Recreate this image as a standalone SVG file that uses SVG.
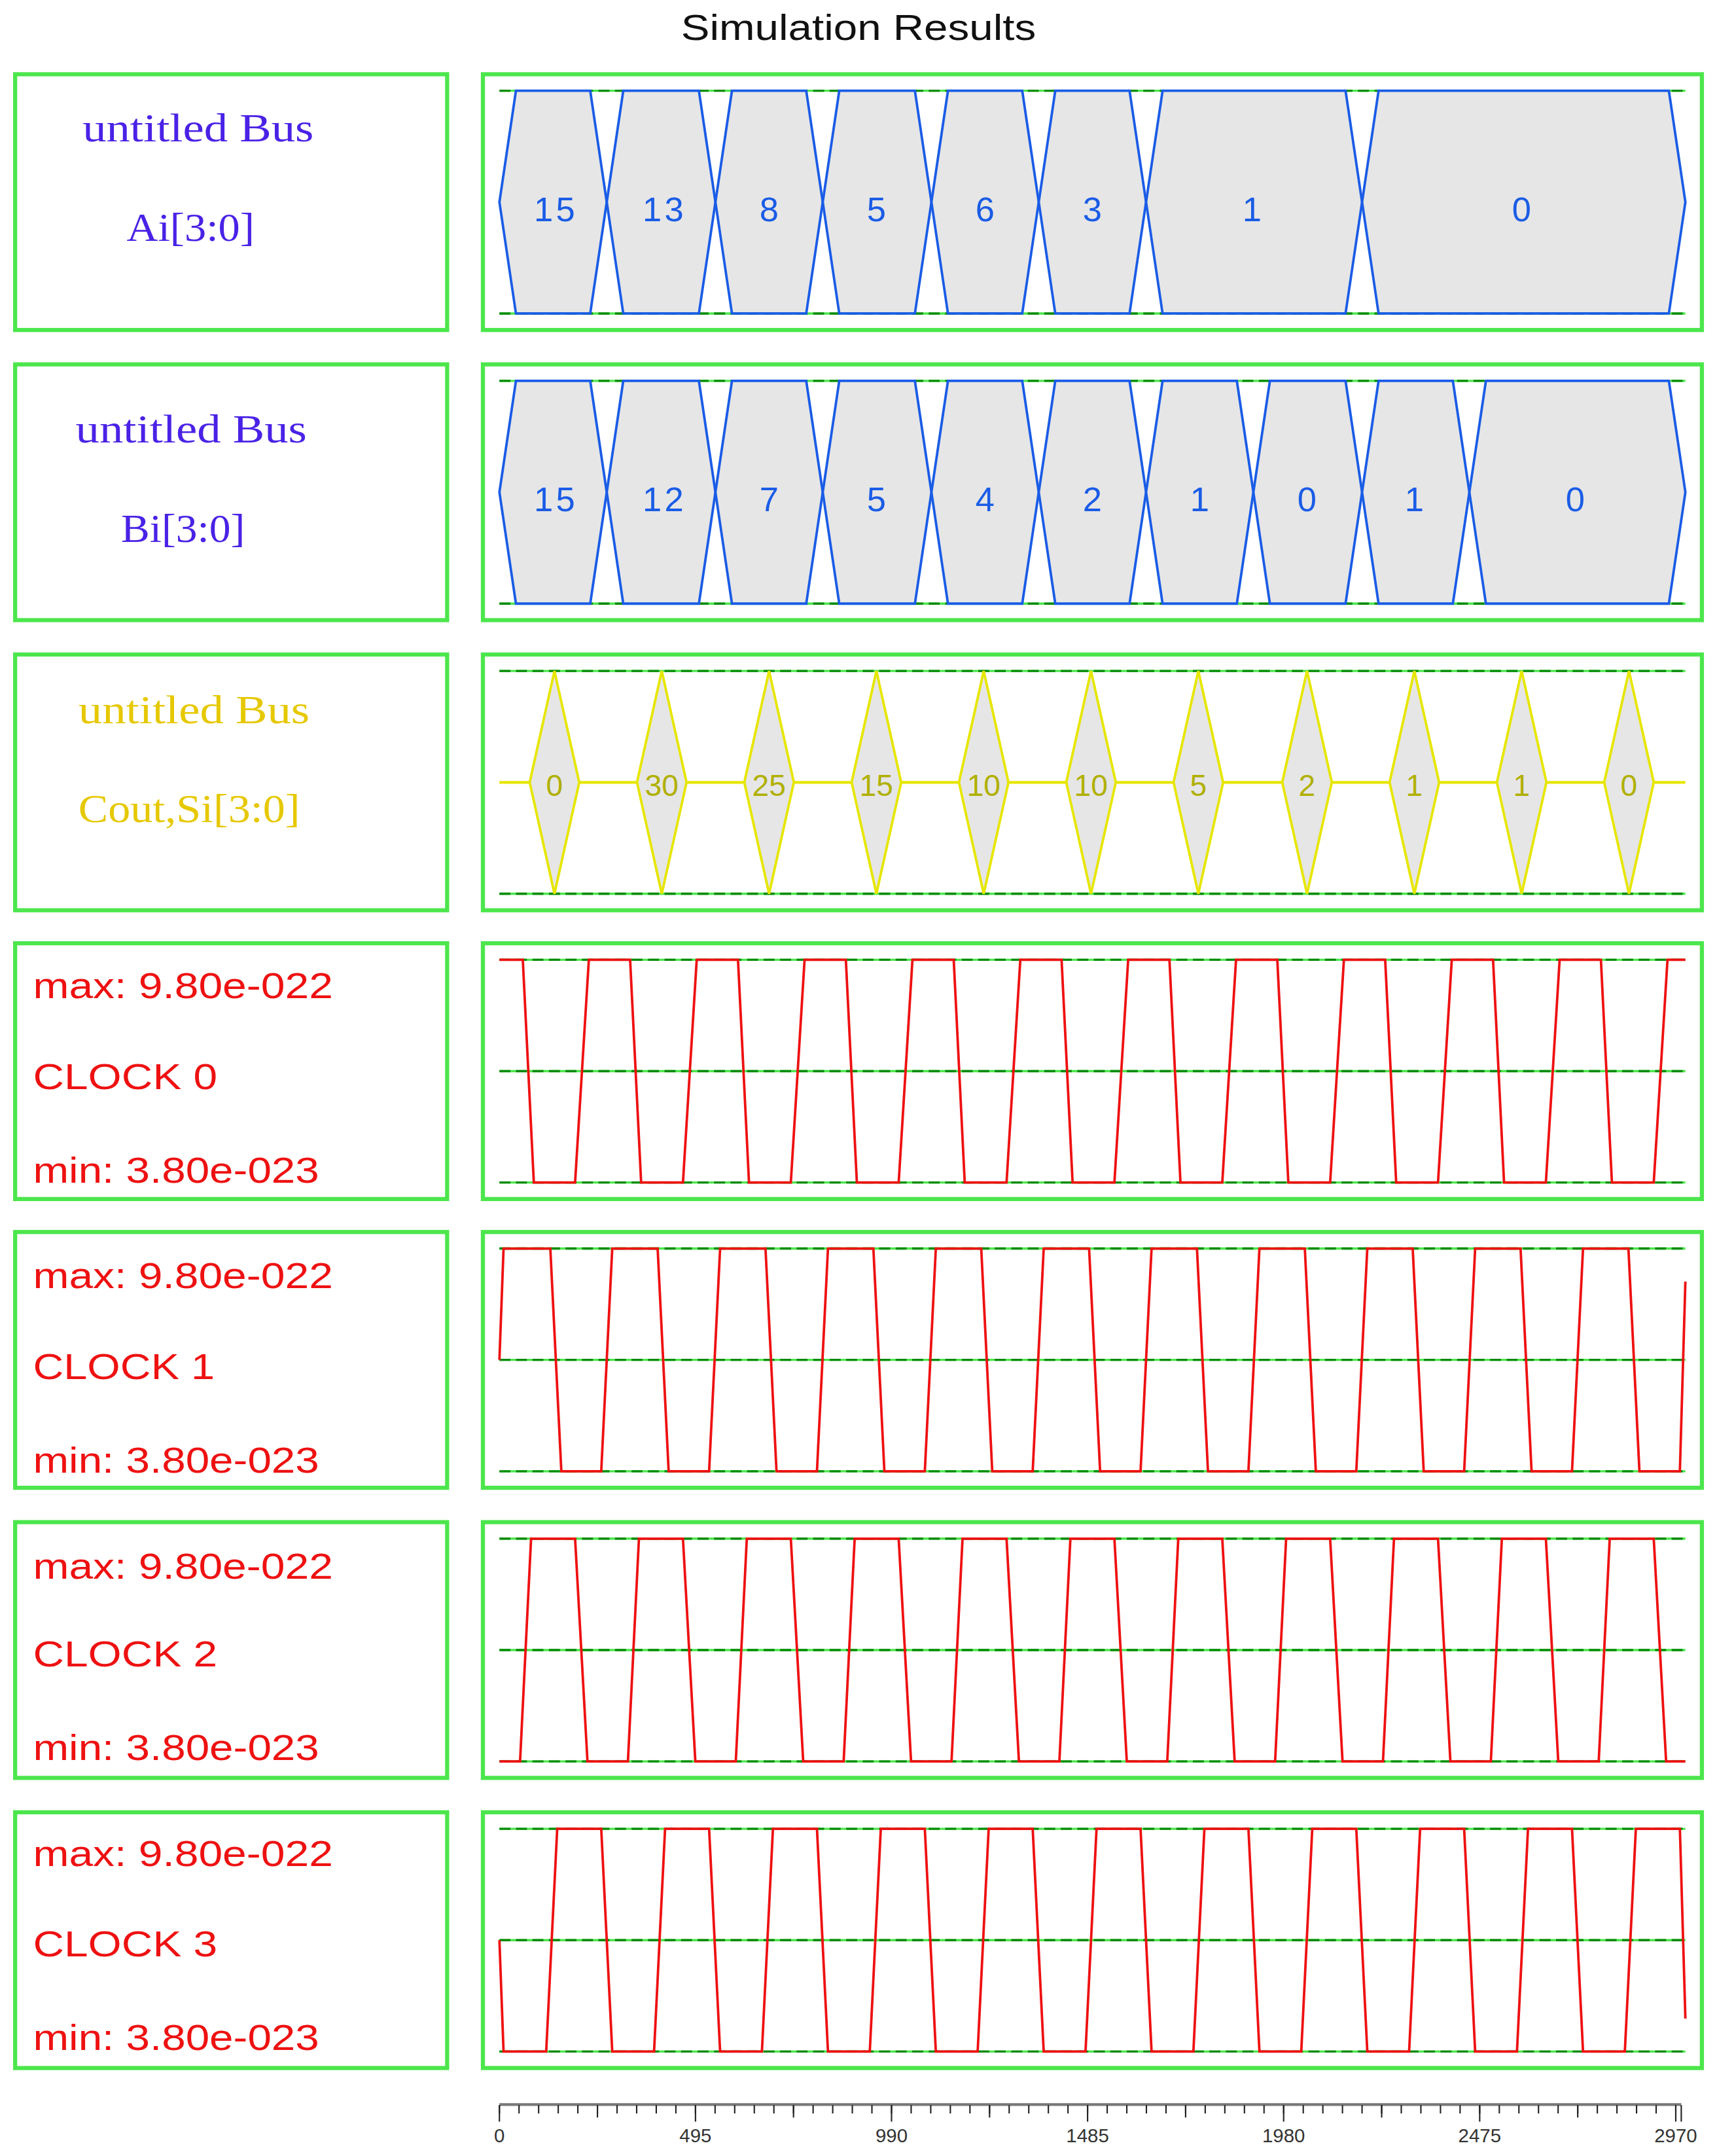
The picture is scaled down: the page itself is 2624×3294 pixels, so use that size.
<svg xmlns="http://www.w3.org/2000/svg" width="2624" height="3294" viewBox="0 0 2624 3294">
<style>
.box{fill:#fff;stroke:#4ce64c;stroke-width:3}
.dl{stroke:#4ce64c;stroke-width:1.6}
.dd{stroke:#0a8a0a;stroke-width:1.6;stroke-dasharray:8 4}
.hex{fill:#e6e6e6;stroke:#1a5ce6;stroke-width:1.8}
.hv{font-family:"Liberation Sans",Arial,sans-serif;font-size:25px;fill:#1a5ce6;text-anchor:middle;letter-spacing:2px}
.dia{fill:#e6e6e6;stroke:#e6e600;stroke-width:1.8}
.dv{font-family:"Liberation Sans",Arial,sans-serif;font-size:22px;fill:#b0b000;text-anchor:middle}
.bl{font-family:"Liberation Serif","Times New Roman",serif;font-size:29px}
.cl{font-family:"Liberation Sans",Arial,sans-serif;font-size:26px;fill:#ee1111}
.clk{fill:none;stroke:#ee1111;stroke-width:1.8}
.rl{font-family:"Liberation Sans",Arial,sans-serif;font-size:14px;fill:#333;text-anchor:middle}
</style>
<rect width="2624" height="3294" fill="#fff"/>
<g transform="scale(2.1026,2.1008)">
<text x="495" y="29" font-family="Liberation Sans,Arial,sans-serif" font-size="26" fill="#111" textLength="258" lengthAdjust="spacingAndGlyphs">Simulation Results</text>

<g id="row1-label"><rect class="box" x="11" y="54" width="314" height="186"/>
<text class="bl" x="60" y="103" fill="#4a22e6" textLength="168" lengthAdjust="spacingAndGlyphs">untitled Bus</text><text class="bl" x="92" y="175" fill="#4a22e6" textLength="93" lengthAdjust="spacingAndGlyphs">Ai[3:0]</text></g>
<g id="row2-label"><rect class="box" x="11" y="265" width="314" height="186"/>
<text class="bl" x="55" y="322" fill="#4a22e6" textLength="168" lengthAdjust="spacingAndGlyphs">untitled Bus</text><text class="bl" x="88" y="394" fill="#4a22e6" textLength="90" lengthAdjust="spacingAndGlyphs">Bi[3:0]</text></g>
<g id="row3-label"><rect class="box" x="11" y="476" width="314" height="186"/>
<text class="bl" x="57" y="526" fill="#e6c800" textLength="168" lengthAdjust="spacingAndGlyphs">untitled Bus</text><text class="bl" x="57" y="598" fill="#e6c800" textLength="161" lengthAdjust="spacingAndGlyphs">Cout,Si[3:0]</text></g>
<g id="row4-label"><rect class="box" x="11" y="686" width="314" height="186"/>
<text class="cl" x="24" y="726" textLength="218" lengthAdjust="spacingAndGlyphs">max: 9.80e-022</text><text class="cl" x="24" y="792" textLength="134" lengthAdjust="spacingAndGlyphs">CLOCK 0</text><text class="cl" x="24" y="860" textLength="208" lengthAdjust="spacingAndGlyphs">min: 3.80e-023</text></g>
<g id="row5-label"><rect class="box" x="11" y="896" width="314" height="186"/>
<text class="cl" x="24" y="937" textLength="218" lengthAdjust="spacingAndGlyphs">max: 9.80e-022</text><text class="cl" x="24" y="1003" textLength="132" lengthAdjust="spacingAndGlyphs">CLOCK 1</text><text class="cl" x="24" y="1071" textLength="208" lengthAdjust="spacingAndGlyphs">min: 3.80e-023</text></g>
<g id="row6-label"><rect class="box" x="11" y="1107" width="314" height="186"/>
<text class="cl" x="24" y="1148" textLength="218" lengthAdjust="spacingAndGlyphs">max: 9.80e-022</text><text class="cl" x="24" y="1212" textLength="134" lengthAdjust="spacingAndGlyphs">CLOCK 2</text><text class="cl" x="24" y="1280" textLength="208" lengthAdjust="spacingAndGlyphs">min: 3.80e-023</text></g>
<g id="row7-label"><rect class="box" x="11" y="1318" width="314" height="186"/>
<text class="cl" x="24" y="1357" textLength="218" lengthAdjust="spacingAndGlyphs">max: 9.80e-022</text><text class="cl" x="24" y="1423" textLength="134" lengthAdjust="spacingAndGlyphs">CLOCK 3</text><text class="cl" x="24" y="1491" textLength="208" lengthAdjust="spacingAndGlyphs">min: 3.80e-023</text></g>

<g id="row1-wave"><rect class="box" x="351" y="54" width="886" height="186"/>
<path class="dl" d="M363 66H1225M363 228H1225"/><path class="dd" d="M363 66H1225M363 228H1225"/>
<polygon class="hex" points="363,147 375,66 429,66 441,147 429,228 375,228"/>
<polygon class="hex" points="441,147 453,66 508,66 520,147 508,228 453,228"/>
<polygon class="hex" points="520,147 532,66 586,66 598,147 586,228 532,228"/>
<polygon class="hex" points="598,147 610,66 665,66 677,147 665,228 610,228"/>
<polygon class="hex" points="677,147 689,66 743,66 755,147 743,228 689,228"/>
<polygon class="hex" points="755,147 767,66 821,66 833,147 821,228 767,228"/>
<polygon class="hex" points="833,147 845,66 978,66 990,147 978,228 845,228"/>
<polygon class="hex" points="990,147 1002,66 1213,66 1225,147 1213,228 1002,228"/>
<text class="hv" x="404" y="161">15</text><text class="hv" x="483" y="161">13</text><text class="hv" x="560" y="161">8</text><text class="hv" x="638" y="161">5</text><text class="hv" x="717" y="161">6</text><text class="hv" x="795" y="161">3</text><text class="hv" x="911" y="161">1</text><text class="hv" x="1107" y="161">0</text></g>

<g id="row2-wave"><rect class="box" x="351" y="265" width="886" height="186"/>
<path class="dl" d="M363 277H1225M363 439H1225"/><path class="dd" d="M363 277H1225M363 439H1225"/>
<polygon class="hex" points="363,358 375,277 429,277 441,358 429,439 375,439"/>
<polygon class="hex" points="441,358 453,277 508,277 520,358 508,439 453,439"/>
<polygon class="hex" points="520,358 532,277 586,277 598,358 586,439 532,439"/>
<polygon class="hex" points="598,358 610,277 665,277 677,358 665,439 610,439"/>
<polygon class="hex" points="677,358 689,277 743,277 755,358 743,439 689,439"/>
<polygon class="hex" points="755,358 767,277 821,277 833,358 821,439 767,439"/>
<polygon class="hex" points="833,358 845,277 899,277 911,358 899,439 845,439"/>
<polygon class="hex" points="911,358 923,277 978,277 990,358 978,439 923,439"/>
<polygon class="hex" points="990,358 1002,277 1056,277 1068,358 1056,439 1002,439"/>
<polygon class="hex" points="1068,358 1080,277 1213,277 1225,358 1213,439 1080,439"/>
<text class="hv" x="404" y="372">15</text><text class="hv" x="483" y="372">12</text><text class="hv" x="560" y="372">7</text><text class="hv" x="638" y="372">5</text><text class="hv" x="717" y="372">4</text><text class="hv" x="795" y="372">2</text><text class="hv" x="873" y="372">1</text><text class="hv" x="951" y="372">0</text><text class="hv" x="1029" y="372">1</text><text class="hv" x="1146" y="372">0</text></g>

<g id="row3-wave"><rect class="box" x="351" y="476" width="886" height="186"/>
<path class="dl" d="M363 488H1225M363 650H1225"/><path class="dd" d="M363 488H1225M363 650H1225"/>
<path d="M363 569H1225" stroke="#e6e600" stroke-width="2"/>
<polygon class="dia" points="403,488 421,569 403,650 385,569"/>
<polygon class="dia" points="481,488 499,569 481,650 463,569"/>
<polygon class="dia" points="559,488 577,569 559,650 541,569"/>
<polygon class="dia" points="637,488 655,569 637,650 619,569"/>
<polygon class="dia" points="715,488 733,569 715,650 697,569"/>
<polygon class="dia" points="793,488 811,569 793,650 775,569"/>
<polygon class="dia" points="871,488 889,569 871,650 853,569"/>
<polygon class="dia" points="950,488 968,569 950,650 932,569"/>
<polygon class="dia" points="1028,488 1046,569 1028,650 1010,569"/>
<polygon class="dia" points="1106,488 1124,569 1106,650 1088,569"/>
<polygon class="dia" points="1184,488 1202,569 1184,650 1166,569"/>
<text class="dv" x="403" y="579">0</text><text class="dv" x="481" y="579">30</text><text class="dv" x="559" y="579">25</text><text class="dv" x="637" y="579">15</text><text class="dv" x="715" y="579">10</text><text class="dv" x="793" y="579">10</text><text class="dv" x="871" y="579">5</text><text class="dv" x="950" y="579">2</text><text class="dv" x="1028" y="579">1</text><text class="dv" x="1106" y="579">1</text><text class="dv" x="1184" y="579">0</text></g>

<g id="row4-wave"><rect class="box" x="351" y="686" width="886" height="186"/>
<path class="dl" d="M363 698H1225M363 779H1225M363 860H1225"/><path class="dd" d="M363 698H1225M363 779H1225M363 860H1225"/>
<polyline class="clk" points="363,698 380,698 388,860 418,860 428,698 458,698 466,860 496.4,860 506.4,698 536.4,698 544.4,860 574.8,860 584.8,698 614.8,698 622.8,860 653.2,860 663.2,698 693.2,698 701.2,860 731.6,860 741.6,698 771.6,698 779.6,860 810,860 820,698 850,698 858,860 888.4,860 898.4,698 928.4,698 936.4,860 966.8,860 976.8,698 1006.8,698 1014.8,860 1045.2,860 1055.2,698 1085.2,698 1093.2,860 1123.6,860 1133.6,698 1163.6,698 1171.6,860 1202,860 1212,698 1225,698"/></g>

<g id="row5-wave"><rect class="box" x="351" y="896" width="886" height="186"/>
<path class="dl" d="M363 908H1225M363 989H1225M363 1070H1225"/><path class="dd" d="M363 908H1225M363 989H1225M363 1070H1225"/>
<polyline class="clk" points="363,989 366,908 400,908 408,1070 437,1070 445,908 478,908 486,1070 515.4,1070 523.4,908 556.4,908 564.4,1070 593.8,1070 601.8,908 634.8,908 642.8,1070 672.2,1070 680.2,908 713.2,908 721.2,1070 750.6,1070 758.6,908 791.6,908 799.6,1070 829,1070 837,908 870,908 878,1070 907.4,1070 915.4,908 948.4,908 956.4,1070 985.8,1070 993.8,908 1026.8,908 1034.8,1070 1064.2,1070 1072.2,908 1105.2,908 1113.2,1070 1142.6,1070 1150.6,908 1183.6,908 1191.6,1070 1221,1070 1225,932"/></g>

<g id="row6-wave"><rect class="box" x="351" y="1107" width="886" height="186"/>
<path class="dl" d="M363 1119H1225M363 1200H1225M363 1281H1225"/><path class="dd" d="M363 1119H1225M363 1200H1225M363 1281H1225"/>
<polyline class="clk" points="363,1281 378,1281 386,1119 418,1119 427,1281 456.4,1281 464.4,1119 496.4,1119 505.4,1281 534.8,1281 542.8,1119 574.8,1119 583.8,1281 613.2,1281 621.2,1119 653.2,1119 662.2,1281 691.6,1281 699.6,1119 731.6,1119 740.6,1281 770,1281 778,1119 810,1119 819,1281 848.4,1281 856.4,1119 888.4,1119 897.4,1281 926.8,1281 934.8,1119 966.8,1119 975.8,1281 1005.2,1281 1013.2,1119 1045.2,1119 1054.2,1281 1083.6,1281 1091.6,1119 1123.6,1119 1132.6,1281 1162,1281 1170,1119 1202,1119 1211,1281 1225,1281"/></g>

<g id="row7-wave"><rect class="box" x="351" y="1318" width="886" height="186"/>
<path class="dl" d="M363 1330H1225M363 1411H1225M363 1492H1225"/><path class="dd" d="M363 1330H1225M363 1411H1225M363 1492H1225"/>
<polyline class="clk" points="363,1411 366,1492 397,1492 405,1330 437,1330 445,1492 475.4,1492 483.4,1330 515.4,1330 523.4,1492 553.8,1492 561.8,1330 593.8,1330 601.8,1492 632.2,1492 640.2,1330 672.2,1330 680.2,1492 710.6,1492 718.6,1330 750.6,1330 758.6,1492 789,1492 797,1330 829,1330 837,1492 867.4,1492 875.4,1330 907.4,1330 915.4,1492 945.8,1492 953.8,1330 985.8,1330 993.8,1492 1024.2,1492 1032.2,1330 1064.2,1330 1072.2,1492 1102.6,1492 1110.6,1330 1142.6,1330 1150.6,1492 1181,1492 1189,1330 1221,1330 1225,1468"/></g>

<g id="ruler">
<path d="M363 1530.5H1222" stroke="#777" stroke-width="2"/>
<path stroke="#222" stroke-width="1" d="M363 1531v6M377.25 1531v6M391.5 1531v6M405.75 1531v6M420 1531v6M434.25 1531v6M448.5 1531v6M462.75 1531v6M477 1531v6M491.25 1531v6M505.5 1531v6M519.75 1531v6M534 1531v6M548.25 1531v6M562.5 1531v6M576.75 1531v6M591 1531v6M605.25 1531v6M619.5 1531v6M633.75 1531v6M648 1531v6M662.25 1531v6M676.5 1531v6M690.75 1531v6M705 1531v6M719.25 1531v6M733.5 1531v6M747.75 1531v6M762 1531v6M776.25 1531v6M790.5 1531v6M804.75 1531v6M819 1531v6M833.25 1531v6M847.5 1531v6M861.75 1531v6M876 1531v6M890.25 1531v6M904.5 1531v6M918.75 1531v6M933 1531v6M947.25 1531v6M961.5 1531v6M975.75 1531v6M990 1531v6M1004.25 1531v6M1018.5 1531v6M1032.75 1531v6M1047 1531v6M1061.25 1531v6M1075.5 1531v6M1089.75 1531v6M1104 1531v6M1118.25 1531v6M1132.5 1531v6M1146.75 1531v6M1161 1531v6M1175.25 1531v6M1189.5 1531v6M1203.75 1531v6M1218 1531v6M1222 1531v12"/>
<path stroke="#222" stroke-width="1" d="M434.25 1531v9M576.75 1531v9M719.25 1531v9M861.75 1531v9M1004.25 1531v9M1146.75 1531v9M363 1531v12M505.5 1531v12M648 1531v12M790.5 1531v12M933 1531v12M1075.5 1531v12M1218 1531v12"/>
<text class="rl" x="363" y="1558">0</text><text class="rl" x="505.5" y="1558">495</text><text class="rl" x="648" y="1558">990</text><text class="rl" x="790.5" y="1558">1485</text><text class="rl" x="933" y="1558">1980</text><text class="rl" x="1075.5" y="1558">2475</text><text class="rl" x="1218" y="1558">2970</text>
</g>
</g>
</svg>
